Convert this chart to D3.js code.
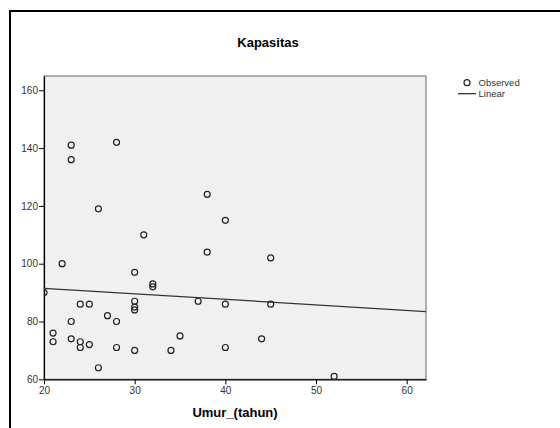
<html>
  <head>
    <style>
      body { margin: 0; background: #fff; }
      text { font-family: "Liberation Sans", Arial, sans-serif; }
    </style>
  </head>
  <body>
    <script src="https://d3js.org/d3.v7.min.js"></script>
    <script>
    var width = 560, height = 428;

    // umur (x) and kapasitas (y)
    var umur =      [20, 21, 21, 22, 23, 23, 23, 23, 24, 24, 24, 25, 25, 26, 26, 27, 28, 28, 28, 30, 30, 30, 30, 30, 31, 32, 32, 34, 35, 37, 38, 38, 40, 40, 40, 44, 45, 45, 52];
    var kapasitas = [90, 76, 73, 100, 141, 136, 80, 74, 86, 73, 71, 86, 72, 119, 64, 82, 142, 80, 71, 97, 87, 85, 84, 70, 110, 93, 92, 70, 75, 87, 124, 104, 115, 86, 71, 74, 102, 86, 61];
    var xTicks = [20, 30, 40, 50, 60];
    var yTicks = [60, 80, 100, 120, 140, 160];
    var legendLabels = ["Observed", "Linear"];

    var margin = {left: 44, top: 76, right: 426, bottom: 379.3};

    var x = d3.scaleLinear().domain([20, 62.13]).range([margin.left, margin.right]);
    var y = d3.scaleLinear().domain([60, 164.95]).range([margin.bottom, margin.top]);

    var svg = d3.select("body").append("svg")
        .attr("width", width)
        .attr("height", height);

    // outer frame (cut by the picture edge)
    svg.append("rect")
        .attr("x", 10).attr("y", 11)
        .attr("width", 600).attr("height", 500)
        .attr("fill", "none")
        .attr("stroke", "#000")
        .attr("stroke-width", 2);

    svg.append("text")
        .attr("x", 268).attr("y", 47)
        .attr("text-anchor", "middle")
        .style("font-size", "13px").style("font-weight", "bold")
        .text("Kapasitas");

    // plot background
    svg.append("rect")
        .attr("x", margin.left).attr("y", margin.top)
        .attr("width", margin.right - margin.left)
        .attr("height", margin.bottom - margin.top)
        .attr("fill", "#f0f0f0")
        .attr("stroke", "#666")
        .attr("stroke-width", 1);

    var xAxis = svg.append("g")
        .attr("transform", "translate(0," + margin.bottom + ")")
        .call(d3.axisBottom(x).tickValues(xTicks).tickSize(5).tickPadding(3).tickSizeOuter(0));
    var yAxis = svg.append("g")
        .attr("transform", "translate(" + margin.left + ",0)")
        .call(d3.axisLeft(y).tickValues(yTicks).tickSize(5).tickPadding(1).tickSizeOuter(0));

    [xAxis, yAxis].forEach(function(a) {
      a.select(".domain").attr("stroke", "#000").attr("stroke-width", 1.2);
      a.selectAll(".tick line").attr("stroke", "#000");
      a.selectAll(".tick text")
        .attr("fill", "#333")
        .style("font-family", "'Liberation Sans', Arial, sans-serif")
        .style("font-size", "10px");
    });

    svg.append("text")
        .attr("x", (margin.left + margin.right) / 2).attr("y", 417)
        .attr("text-anchor", "middle")
        .style("font-size", "13px").style("font-weight", "bold")
        .text("Umur_(tahun)");

    // least squares fit
    var mx = d3.mean(umur), my = d3.mean(kapasitas);
    var sxy = d3.sum(umur, function(d, i) { return (d - mx) * (kapasitas[i] - my); });
    var sxx = d3.sum(umur, function(d) { return (d - mx) * (d - mx); });
    var slope = sxy / sxx, intercept = my - slope * mx;
    var xd = x.domain();

    var plot = svg.append("g");
    plot.append("clipPath").attr("id", "clip")
      .append("rect")
        .attr("x", margin.left).attr("y", margin.top)
        .attr("width", margin.right - margin.left)
        .attr("height", margin.bottom - margin.top);

    plot.append("line")
        .attr("x1", x(xd[0])).attr("y1", y(intercept + slope * xd[0]))
        .attr("x2", x(xd[1])).attr("y2", y(intercept + slope * xd[1]))
        .attr("stroke", "#333")
        .attr("stroke-width", 1.3);

    plot.selectAll("circle.pt")
        .data(umur)
        .enter().append("circle")
        .attr("class", "pt")
        .attr("clip-path", "url(#clip)")
        .attr("cx", function(d) { return x(d); })
        .attr("cy", function(d, i) { return y(kapasitas[i]); })
        .attr("r", 3)
        .attr("fill", "none")
        .attr("stroke", "#222")
        .attr("stroke-width", 1.2);

    // legend
    var legend = svg.append("g");
    legend.append("circle")
        .attr("cx", 467).attr("cy", 82.7).attr("r", 3)
        .attr("fill", "none").attr("stroke", "#222").attr("stroke-width", 1.2);
    legend.append("line")
        .attr("x1", 458).attr("x2", 476).attr("y1", 93.7).attr("y2", 93.7)
        .attr("stroke", "#333").attr("stroke-width", 1.3);
    legend.selectAll("text.lg")
        .data(legendLabels)
        .enter().append("text")
        .attr("class", "lg")
        .attr("x", 478.5)
        .attr("y", function(d, i) { return 86 + i * 11; })
        .attr("fill", "#333")
        .style("font-size", "9.5px")
        .text(function(d) { return d; });
    </script>
  </body>
</html>
